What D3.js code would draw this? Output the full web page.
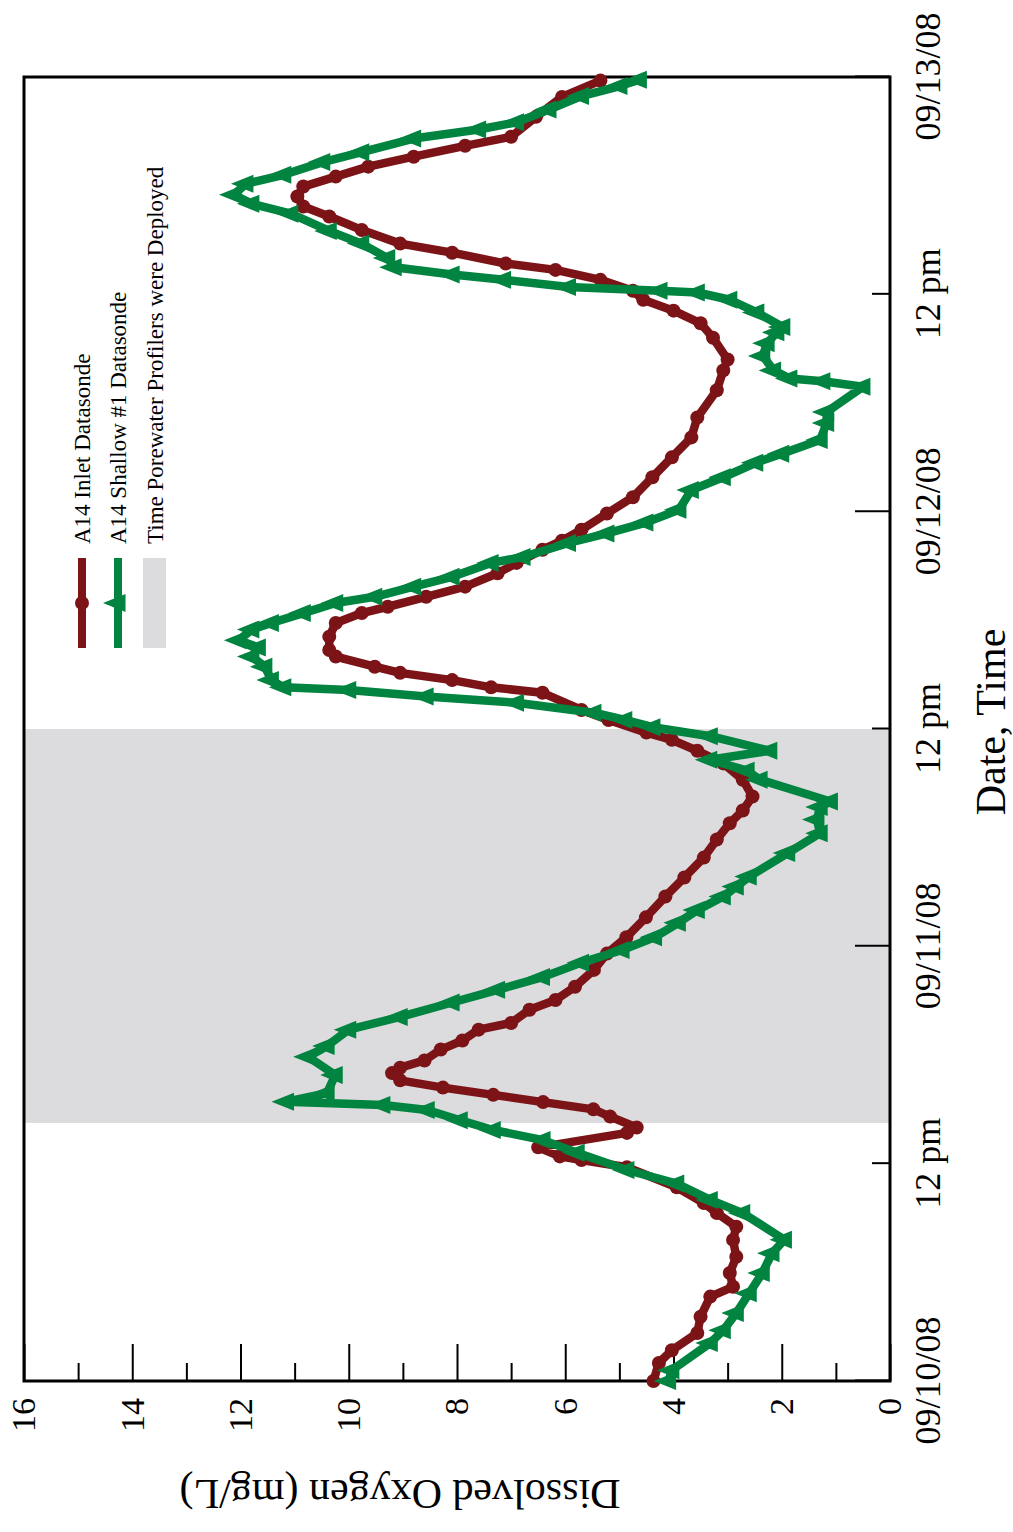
<!DOCTYPE html>
<html>
<head>
<meta charset="utf-8">
<script src="https://cdn.jsdelivr.net/npm/d3@7"></script>
<style>
  body { margin: 0; background: #fff; }
  svg { display: block; }
  text { font-family: "Liberation Serif", "Times New Roman", serif; fill: #000; }
</style>
</head>
<body>
<div id="chart"></div>
<script>
// hours after 09/10/08 00:00
var inletHours = [0.0, 1.0, 1.7, 2.65, 3.55, 4.66, 5.2, 5.96, 6.86, 7.79, 8.52, 9.27, 9.83, 10.7,
    11.8, 12.2, 12.4, 12.9, 13.7, 14.0, 14.6, 15.0, 15.4, 15.8, 16.2, 16.6, 17.0, 17.3, 17.7, 18.3,
    18.8, 19.4, 19.77, 20.5, 21.04, 21.77, 22.7, 23.6, 24.5, 25.6, 26.75, 27.8, 28.9, 29.9, 30.8,
    31.5, 32.27, 33.2, 34.1, 34.8, 35.4, 35.8, 36.5, 37.05, 38.0, 38.3, 38.7, 39.1, 39.44, 40.0,
    40.36, 41.1, 41.85, 42.4, 42.75, 43.3, 43.86, 44.6, 45.17, 45.9, 46.4, 47.0, 47.9, 48.8, 49.9,
    51.0, 52.1, 53.2, 54.7, 55.8, 56.4, 57.6, 58.4, 59.1, 59.7, 60.2, 60.8, 61.35, 61.7, 62.3, 62.8,
    63.55, 64.3, 64.85, 65.4, 65.95, 66.5, 67.05, 67.6, 68.2, 68.7, 69.8, 70.9, 71.8];
var inletDO = [4.37, 4.27, 4.03, 3.56, 3.50, 3.32, 2.90, 2.96, 2.84, 2.90, 2.84, 3.20, 3.44, 3.94,
    4.86, 5.70, 6.10, 6.50, 4.86, 4.68, 5.17, 5.48, 6.41, 7.33, 8.26, 9.05, 9.20, 9.05, 8.60, 8.30,
    7.90, 7.60, 7.00, 6.66, 6.18, 5.82, 5.47, 5.23, 4.87, 4.51, 4.15, 3.80, 3.44, 3.20, 2.96,
    2.72, 2.54, 2.72, 3.08, 3.56, 4.03, 4.50, 5.20, 5.70, 6.42, 7.37, 8.09, 9.05, 9.52, 10.24,
    10.36, 10.36, 10.24, 9.76, 9.28, 8.57, 7.85, 7.25, 6.90, 6.42, 6.06, 5.70, 5.23, 4.75, 4.39,
    4.03, 3.67, 3.56, 3.20, 3.08, 3.00, 3.27, 3.50, 4.00, 4.56, 4.75, 5.35, 6.18, 7.10, 8.09, 9.05,
    9.76, 10.36, 10.84, 10.95, 10.84, 10.24, 9.64, 8.80, 7.85, 7.00, 6.54, 6.06, 5.35];

var shallowHours = [0.0, 0.6, 2.1, 2.8, 3.75, 4.85, 5.96, 7.05, 7.8, 9.27, 10.0, 10.9, 11.65, 12.6,
    13.3, 13.86, 14.4, 14.96, 15.24, 15.42, 15.9, 16.9, 17.9, 18.5, 19.4, 20.1, 20.9, 21.6, 22.3,
    23.1, 23.8, 24.5, 25.3, 26.0, 26.75, 27.3, 27.85, 29.15, 30.25, 31.0, 31.7, 32.0, 33.2, 33.7,
    34.3, 34.8, 35.6, 36.1, 36.5, 36.9, 37.45, 37.8, 38.15, 38.3, 38.7, 39.44, 40.0, 40.5, 40.9,
    41.5, 41.85, 42.4, 42.96, 43.3, 43.86, 44.4, 45.17, 45.5, 46.27, 46.8, 47.4, 48.1, 49.2, 49.9,
    50.7, 51.2, 51.96, 52.9, 53.5, 54.9, 55.2, 55.35, 55.8, 56.6, 57.3, 57.9, 58.2, 59.0, 59.7,
    60.1, 60.2, 60.4, 60.8, 61.1, 61.5, 62.0, 62.8, 63.5, 64.45, 65.0, 65.5, 66.1, 66.6, 67.3,
    67.85, 68.6, 69.1, 69.5, 70.2, 70.95, 71.5, 71.85];
var shallowDO = [4.09, 4.03, 3.32, 3.08, 2.84, 2.60, 2.36, 2.18, 1.95, 2.72, 3.32, 3.94, 4.86, 5.78,
    6.41, 7.33, 7.94, 8.55, 9.37, 11.15, 10.40, 10.25, 10.75, 10.40, 10.00, 9.05, 8.09, 7.25, 6.42,
    5.70, 4.95, 4.35, 3.91, 3.56, 3.08, 2.84, 2.60, 1.89, 1.29, 1.35, 1.29, 1.10, 2.40, 2.64,
    3.33, 2.22, 3.32, 4.38, 4.90, 5.47, 6.90, 8.57, 10.00, 11.20, 11.43, 11.55, 11.79, 11.67, 12.03,
    11.79, 11.43, 10.84, 10.24, 9.52, 8.80, 8.09, 7.37, 6.78, 5.94, 5.23, 4.51, 3.90, 3.67, 3.08,
    2.48, 2.00, 1.29, 1.17, 1.17, 0.50, 1.24, 1.85, 2.15, 2.35, 2.27, 2.09, 1.98, 2.46, 2.96,
    3.56, 4.25, 5.94, 7.14, 8.09, 9.16, 9.28, 9.76, 10.36, 11.07, 11.79, 12.12, 11.90, 11.20, 10.48,
    9.76, 8.80, 7.60, 6.90, 6.30, 5.70, 4.99, 4.63];

var deployHours = [14.25, 36];

var timeTickHours = [0, 12, 24, 36, 48, 60, 72];
var timeTickLabels = ["09/10/08", "12 pm", "09/11/08", "12 pm", "09/12/08", "12 pm", "09/13/08"];
var doTickValues = [0, 1, 2, 3, 4, 5, 6, 7, 8, 9, 10, 11, 12, 13, 14, 15, 16];
var doTickLabels = ["0", "", "2", "", "4", "", "6", "", "8", "", "10", "", "12", "", "14", "", "16"];

var seriesNames = ["A14 Inlet Datasonde", "A14 Shallow #1 Datasonde", "Time Porewater Profilers were Deployed"];

var red = "#7c1417", green = "#00843f", shade = "#dcdcde";

var pageW = 1013, pageH = 1532;
// the chart is drawn landscape and turned a quarter turn counter-clockwise
var plotLeft = 24, plotBottom = 1381;
var width = 1304, height = 866;

var start = new Date(2008, 8, 10);
function atHour(h) { return new Date(start.getTime() + h * 3600 * 1000); }

var inlet = inletHours.map(function(h, i) { return {t: atHour(h), v: inletDO[i]}; });
var shallow = shallowHours.map(function(h, i) { return {t: atHour(h), v: shallowDO[i]}; });

var svg = d3.select("#chart").append("svg")
    .attr("width", pageW)
    .attr("height", pageH);

var g = svg.append("g")
    .attr("transform", "translate(" + plotLeft + "," + plotBottom + ") rotate(-90)");

var x = d3.scaleTime()
    .domain([atHour(0), atHour(72)])
    .range([0, width]);

var y = d3.scaleLinear()
    .domain([0, 16])
    .range([height, 0]);

// shaded deployment window
g.append("rect")
    .attr("x", x(atHour(deployHours[0])))
    .attr("y", 0)
    .attr("width", x(atHour(deployHours[1])) - x(atHour(deployHours[0])))
    .attr("height", height)
    .attr("fill", shade);

// DO axis (bottom of the page)
var yAxis = g.append("g")
    .call(d3.axisLeft(y)
        .tickValues(doTickValues)
        .tickSize(-37)
        .tickPadding(17)
        .tickFormat(function(d, i) { return doTickLabels[i]; }));
yAxis.select(".domain").remove();
yAxis.selectAll(".tick line")
    .attr("stroke-width", 2)
    .filter(function(d) { return d % 2 === 1; })
    .attr("x2", 18);
yAxis.selectAll(".tick text")
    .style("font-size", "34px");

// time axis (right side of the page)
var xAxis = g.append("g")
    .attr("transform", "translate(0," + height + ")")
    .call(d3.axisBottom(x)
        .tickValues(timeTickHours.map(atHour))
        .tickSize(-35)
        .tickPadding(24)
        .tickFormat(function(d, i) { return timeTickLabels[i]; }));
xAxis.select(".domain").remove();
xAxis.selectAll(".tick line")
    .attr("stroke-width", 2)
    .filter(function(d, i) { return timeTickHours[i] % 24 === 12; })
    .attr("y2", -18);
xAxis.selectAll(".tick text")
    .style("font-size", "36px");

// frame
g.append("rect")
    .attr("width", width)
    .attr("height", height)
    .attr("fill", "none")
    .attr("stroke", "#000")
    .attr("stroke-width", 3);

var line = d3.line()
    .x(function(d) { return x(d.t); })
    .y(function(d) { return y(d.v); });

var triangle = "M0,-15L9,7.5L-9,7.5Z";

g.append("path")
    .datum(inlet)
    .attr("d", line)
    .attr("fill", "none")
    .attr("stroke", red)
    .attr("stroke-width", 8.5)
    .attr("stroke-linejoin", "round");

g.append("g").selectAll("circle")
    .data(inlet)
    .enter().append("circle")
        .attr("cx", function(d) { return x(d.t); })
        .attr("cy", function(d) { return y(d.v); })
        .attr("r", 7)
        .attr("fill", red);

g.append("path")
    .datum(shallow)
    .attr("d", line)
    .attr("fill", "none")
    .attr("stroke", green)
    .attr("stroke-width", 8.5)
    .attr("stroke-linejoin", "round");

g.append("g").selectAll("path")
    .data(shallow)
    .enter().append("path")
        .attr("d", triangle)
        .attr("transform", function(d) { return "translate(" + x(d.t) + "," + y(d.v) + ")"; })
        .attr("fill", green);

// axis titles
g.append("text")
    .attr("x", width / 2 + 7)
    .attr("y", height + 115)
    .attr("text-anchor", "middle")
    .style("font-size", "42px")
    .text("Date, Time");

g.append("text")
    .attr("transform", "translate(-99," + 376 + ") rotate(-90)")
    .attr("text-anchor", "middle")
    .style("font-size", "42px")
    .text("Dissolved Oxygen (mg/L)");

// legend
var legend = g.append("g").attr("transform", "translate(733,0)");
var rows = [58, 94, 131];

legend.append("line")
    .attr("x1", 0).attr("x2", 90)
    .attr("y1", rows[0]).attr("y2", rows[0])
    .attr("stroke", red).attr("stroke-width", 8);
legend.append("circle")
    .attr("cx", 45).attr("cy", rows[0]).attr("r", 7)
    .attr("fill", red);

legend.append("line")
    .attr("x1", 0).attr("x2", 90)
    .attr("y1", rows[1]).attr("y2", rows[1])
    .attr("stroke", green).attr("stroke-width", 8);
legend.append("path")
    .attr("d", triangle)
    .attr("transform", "translate(45," + rows[1] + ")")
    .attr("fill", green);

legend.append("rect")
    .attr("x", 0).attr("y", rows[2] - 12)
    .attr("width", 90).attr("height", 23)
    .attr("fill", shade);

legend.selectAll("text")
    .data(seriesNames)
    .enter().append("text")
        .attr("x", 104)
        .attr("y", function(d, i) { return rows[i]; })
        .attr("dy", "0.36em")
        .style("font-size", "23px")
        .text(function(d) { return d; });
</script>
</body>
</html>
